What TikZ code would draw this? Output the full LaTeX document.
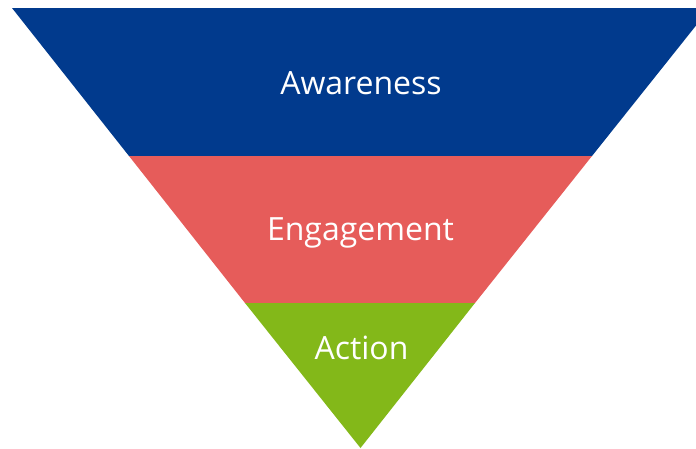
\documentclass[tikz,border=0pt]{standalone}
\usepackage{fontspec}
\setmainfont{Open Sans}
\definecolor{fblue}{HTML}{013A8D}
\definecolor{fred}{HTML}{E65C5A}
\definecolor{fgreen}{HTML}{83B819}
\begin{document}
\begin{tikzpicture}[x=1pt,y=-1pt,
  lbl/.style={text=white,font=\fontsize{32}{36}\selectfont,anchor=base,inner sep=0pt}]
\useasboundingbox (0,0) rectangle (696,448);
\coordinate (tl) at (12,8);
\coordinate (tr) at (710,8);
\coordinate (l1) at (129,156);
\coordinate (r1) at (592,156);
\coordinate (l2) at (245,303);
\coordinate (r2) at (475,303);
\coordinate (tip) at (360.5,448);
\fill[fblue] (tl) -- (tr) -- (r1) -- (l1) -- cycle;
\fill[fred] (l1) -- (r1) -- (r2) -- (l2) -- cycle;
\fill[fgreen] (l2) -- (r2) -- (tip) -- cycle;
\node[lbl] (aw) at (361,94.5) {Awareness};
\node[lbl] (en) at (360.5,240) {Engagement};
\node[lbl] (ac) at (361.5,359) {Action};
\end{tikzpicture}
\end{document}
